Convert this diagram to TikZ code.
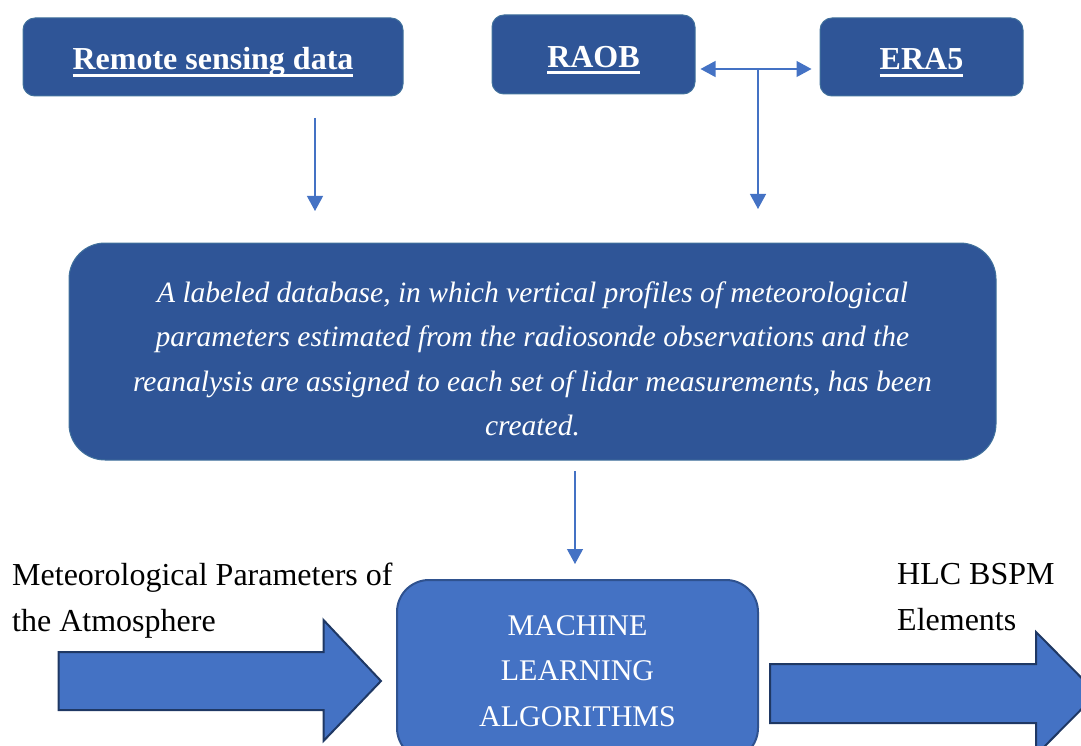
\documentclass[tikz,border=0pt]{standalone}
\usepackage{fontspec}
\setmainfont{Liberation Serif}
\usetikzlibrary{arrows.meta}
\definecolor{darkbox}{HTML}{2F5597}
\definecolor{darkedge}{HTML}{41719C}
\definecolor{midblue}{HTML}{4472C4}
\definecolor{midedge}{HTML}{2F528F}
\definecolor{navyedge}{HTML}{1F3864}
\newcommand{\ulw}[1]{\setbox0\hbox{#1}\leavevmode\rlap{\copy0}\rule[-7pt]{\wd0}{3pt}}
\tikzset{
  topbox/.style={draw=darkedge, line width=1pt, fill=darkbox, rounded corners=12pt,
    text=white, font=\fontsize{32}{38}\selectfont\bfseries, inner sep=0pt,
    text height=30pt, text depth=4pt},
  bigbox/.style={draw=darkedge, line width=1pt, fill=darkbox, rounded corners=36pt},
  bigtext/.style={text=white, font=\fontsize{29.5}{44.5}\selectfont\itshape, align=center, inner sep=0pt},
  mlbox/.style={draw=midedge, line width=2pt, fill=midblue, rounded corners=32pt},
  mltext/.style={text=white, font=\fontsize{30}{45.5}\selectfont, align=center, inner sep=0pt},
  conn/.style={draw=midblue, line width=1.2pt, -{Triangle[width=16pt,length=15pt]}},
  blockarrow/.style={draw=navyedge, line width=2pt, fill=midblue, line join=miter},
  plainlabel/.style={font=\fontsize{32}{46}\selectfont, align=left, inner sep=0pt, anchor=north west}
}
\begin{document}
\begin{tikzpicture}[x=1pt,y=-1pt]
\useasboundingbox (0,0) rectangle (1081,746);
% top boxes
\node[topbox, minimum width=380pt, minimum height=78pt] (rs) at (213,57) {\ulw{Remote sensing data}};
\node[topbox, minimum width=203pt, minimum height=79pt] (raob) at (593.5,54.5) {\ulw{RAOB}};
\node[topbox, minimum width=203pt, minimum height=78pt] (era) at (921.5,57) {\ulw{ERA5}};
% big box
\node[bigbox, minimum width=927pt, minimum height=217pt] (db) at (532.5,351.5) {};
\node[bigtext] (dbtext) at ([yshift=-7.5pt]db.center)
 {A labeled database, in which vertical profiles of meteorological\\
  parameters estimated from the radiosonde observations and the\\
  reanalysis are assigned to each set of lidar measurements, has been\\
  created.};
% ML box
\node[mlbox, minimum width=361pt, minimum height=180pt] (ml) at (577.5,670) {};
\node[mltext] (mltxt) at ([yshift=-1pt]ml.center) {MACHINE\\LEARNING\\ALGORITHMS};
% connectors
\coordinate (rsa) at (315,118);
\coordinate (rsb) at (315,211);
\draw[conn] (rsa) -- (rsb);
\coordinate (jn) at (758,69);
\coordinate (jb) at (758,209);
\draw[draw=midblue, line width=1.2pt, {Triangle[width=16pt,length=15pt]}-{Triangle[width=16pt,length=15pt]}] (raob.east |- jn) ++(5,0) -- ([xshift=-8pt]era.west |- jn);
\draw[conn] (jn) -- (jb);
\coordinate (dba) at (575,471);
\coordinate (dbb) at (575,564);
\draw[conn] (dba) -- (dbb);
% block arrows
\draw[blockarrow] (58.5,652) -- (323.5,652) -- (323.5,620) -- (381,681) -- (323.5,741) -- (323.5,710) -- (58.5,710) -- cycle;
\draw[blockarrow] (770,664) -- (1036,664) -- (1036,632) -- (1097,693.5) -- (1036,755) -- (1036,723) -- (770,723) -- cycle;
% labels
\node[plainlabel] (inlab) at (12,563) {Meteorological Parameters of\\the Atmosphere};
\node[plainlabel] (outlab) at (897,563) {HLC BSPM\\Elements};
\end{tikzpicture}
\end{document}
